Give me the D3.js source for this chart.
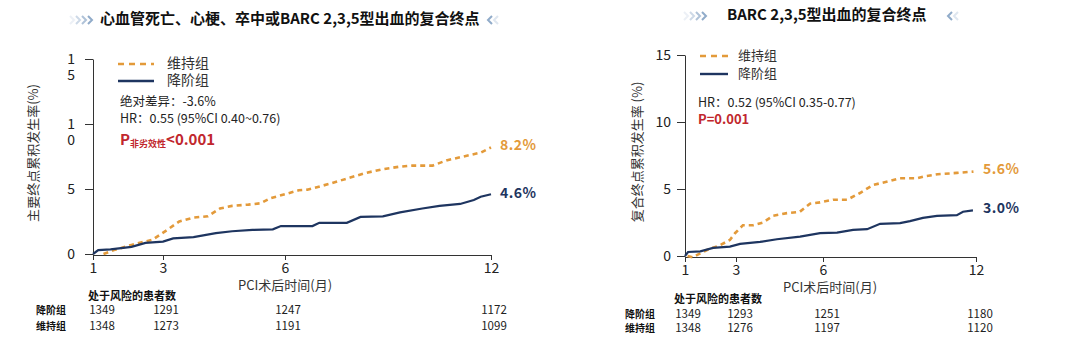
<!DOCTYPE html>
<html>
<head>
<meta charset="utf-8"/>
<title>KM curves</title>
<script src="https://d3js.org/d3.v7.min.js"></script>
<style>
  body { margin: 0; background: #fff; }
  text { font-family: "Noto Sans CJK SC", "Noto Sans", sans-serif; }
</style>
</head>
<body>
<svg width="1065" height="354"></svg>
<script>
// x ticks (months)
var months = [1, 3, 6, 12];
var yTicks = [0, 5, 10, 15];
var groups = ["维持组", "降阶组"];

// left: 心血管死亡、心梗、卒中或BARC 2,3,5型出血
var leftMaintain = [[1.3,0],[1.6,0.3],[2.1,0.7],[2.7,1.1],[3.1,1.85],[3.4,2.5],[3.75,2.8],[4.1,2.9],[4.4,3.5],[4.7,3.7],
  [5.1,3.8],[5.4,3.9],[5.65,4.3],[6,4.6],[6.4,4.9],[6.65,4.95],[7.3,5.4],[8.3,6.2],[8.8,6.5],[9.3,6.7],[9.7,6.8],
  [10.3,6.8],[10.7,7.2],[11.2,7.5],[11.7,7.8],[12,8.2]];
var leftDeesc = [[1,0],[1.15,0.3],[1.5,0.35],[2.1,0.55],[2.5,0.85],[3,0.95],[3.25,1.2],[3.75,1.3],[4.3,1.6],[4.7,1.75],
  [5.2,1.85],[5.7,1.9],[5.9,2.15],[6.8,2.15],[7.0,2.4],[7.8,2.4],[8.2,2.85],[8.85,2.9],[9.35,3.2],[10,3.5],
  [10.5,3.7],[11.1,3.85],[11.5,4.15],[11.7,4.4],[12,4.6]];
var leftRiskDeesc = [1349, 1291, 1247, 1172];
var leftRiskMaintain = [1348, 1273, 1191, 1099];

// right: BARC 2,3,5型出血
var rightMaintain = [[1.1,0],[1.3,-0.1],[1.5,0.1],[1.86,0.45],[2.37,0.8],[2.76,1.2],[2.96,1.7],[3.24,2.3],[3.6,2.3],
  [3.93,2.5],[4.28,3.0],[4.76,3.2],[5.2,3.3],[5.55,3.9],[5.9,4.0],[6.4,4.2],[6.95,4.2],[7.45,4.7],[7.96,5.3],
  [8.63,5.6],[9.0,5.8],[9.7,5.8],[10.0,5.95],[10.5,6.1],[11.25,6.2],[11.9,6.3]];
var rightDeesc = [[1,0],[1.12,0.3],[1.6,0.35],[2.1,0.6],[2.76,0.7],[3.14,0.9],[3.83,1.05],[4.41,1.25],[5.21,1.45],
  [5.9,1.7],[6.55,1.75],[7.18,1.95],[7.73,2.0],[8.24,2.4],[9.02,2.45],[9.41,2.6],[9.92,2.85],[10.47,3.0],
  [11.25,3.05],[11.49,3.3],[11.88,3.4]];
var rightRiskDeesc = [1349, 1293, 1251, 1180];
var rightRiskMaintain = [1348, 1276, 1197, 1120];

var ORANGE = "#e39a3a", NAVY = "#1e3560", RED = "#c1272d", INK = "#333";
var svg = d3.select("svg");
svg.append("rect").attr("width", 1065).attr("height", 354).attr("fill", "#fff");

function chevrons(x0, y0, n, dir, step) {
  for (var i = 0; i < n; i++) {
    var x = x0 + i * step;
    var op = dir > 0 ? 0.15 + 0.7 * i / (n - 1) : 0.85 - 0.6 * i / (n - 1);
    svg.append("path")
      .attr("d", dir > 0 ? "M" + x + "," + (y0 - 4) + "l4,4l-4,4" : "M" + (x + 4) + "," + (y0 - 4) + "l-4,4l4,4")
      .attr("fill", "none").attr("stroke", "#7d9cc0").attr("stroke-width", 2).attr("opacity", op);
  }
}

function panel(o) {
  var x = d3.scaleLinear().domain(months).range(o.xr);
  var y = d3.scaleLinear().domain([0, 15]).range([o.y0, o.y15]);
  var g = svg.append("g");

  // title
  svg.append("text").attr("x", o.titleX).attr("y", o.titleY).attr("font-size", 15).attr("font-weight", "bold")
    .attr("fill", "#111").attr("dominant-baseline", "middle").text(o.title);
  chevrons(o.chevL, o.titleY, 4, 1, 6);
  chevrons(o.chevR, o.titleY, 2, -1, 6);

  // axes
  var ya = g.append("g").attr("transform", "translate(" + o.xr[0] + ",0)")
    .call(d3.axisLeft(y).tickValues(yTicks).tickSize(8).tickPadding(o.pad).tickSizeOuter(0));
  var xa = g.append("g").attr("transform", "translate(0," + (o.y0 + 1) + ")")
    .call(d3.axisBottom(x).tickValues(months).tickSize(5).tickPadding(3).tickSizeOuter(0).tickFormat(d3.format("d")));
  [ya, xa].forEach(function(a) {
    a.select(".domain").attr("stroke", INK);
    a.selectAll(".tick line").attr("stroke", INK);
    a.selectAll("text").attr("font-size", 14).attr("fill", "#222")
      .attr("font-family", "'Noto Sans CJK SC', 'Noto Sans', sans-serif");
  });
  if (o.wrapTicks) {
    // the source wraps two-digit labels onto two lines
    ya.selectAll(".tick").each(function(d) {
      var s = String(d);
      if (s.length < 2) return;
      var t = d3.select(this);
      t.select("text").remove();
      t.append("text").attr("x", -o.pad - 8).attr("dy", "0.32em").attr("text-anchor", "end")
        .attr("font-size", 14).attr("fill", "#222").text(s[0]);
      t.append("text").attr("x", -o.pad - 8).attr("y", 16.5).attr("dy", "0.32em").attr("text-anchor", "end")
        .attr("font-size", 14).attr("fill", "#222").text(s[1]);
    });
  }

  g.append("text").attr("transform", "translate(" + o.ytX + "," + o.ytY + ") rotate(-90)")
    .attr("text-anchor", "middle").attr("font-size", 13).attr("fill", INK).text(o.yTitle);
  g.append("text").attr("x", x(6) + o.xlabDx).attr("y", o.y0 + 36).attr("text-anchor", "middle")
    .attr("font-size", 13).attr("fill", INK).text("PCI术后时间(月)");

  // curves
  var line = d3.line().x(function(d) { return x(d[0]); }).y(function(d) { return y(d[1]); });
  g.append("path").datum(o.maintain).attr("d", line).attr("fill", "none").attr("stroke", ORANGE)
    .attr("stroke-width", 2.6).attr("stroke-dasharray", "5,4");
  g.append("path").datum(o.deesc).attr("d", line).attr("fill", "none").attr("stroke", NAVY).attr("stroke-width", 2.2);

  // end labels
  var lm = o.maintain[o.maintain.length - 1], ld = o.deesc[o.deesc.length - 1];
  g.append("text").attr("x", x(12) + o.endDx).attr("y", y(lm[1]) + o.endDyM).attr("dominant-baseline", "middle")
    .attr("font-size", 14).attr("font-weight", "bold").attr("fill", ORANGE).attr("letter-spacing", 0.5).text(o.endM);
  g.append("text").attr("x", x(12) + o.endDx).attr("y", y(ld[1]) + o.endDyD).attr("dominant-baseline", "middle")
    .attr("font-size", 14).attr("font-weight", "bold").attr("fill", NAVY).attr("letter-spacing", 0.5).text(o.endD);

  // legend
  var lg = g.append("g").attr("transform", "translate(" + o.legX + "," + o.legY + ")");
  lg.append("line").attr("x1", 0).attr("x2", o.legW).attr("y1", 0).attr("y2", 0).attr("stroke", ORANGE)
    .attr("stroke-width", 2.6).attr("stroke-dasharray", "6,5");
  lg.append("line").attr("x1", 0).attr("x2", o.legW).attr("y1", o.legGap).attr("y2", o.legGap).attr("stroke", NAVY)
    .attr("stroke-width", 2.4);
  lg.selectAll("text.lg").data(groups).enter().append("text").attr("class", "lg")
    .attr("x", o.legTx).attr("y", function(d, i) { return i * o.legGap; }).attr("dominant-baseline", "middle")
    .attr("font-size", o.legFs).attr("fill", INK).text(function(d) { return d; });

  // stats
  var sy = o.statY;
  if (o.absDiff) {
    g.append("text").attr("x", o.statX).attr("y", sy).attr("dominant-baseline", "middle").attr("font-size", 12.5)
      .attr("fill", "#222").text(o.absDiff);
    sy += 17;
  }
  g.append("text").attr("x", o.statX).attr("y", sy).attr("dominant-baseline", "middle").attr("font-size", 12.5)
    .attr("fill", "#222").text(o.hr);
  var p = g.append("text").attr("x", o.statX).attr("y", sy + o.pGap).attr("dominant-baseline", "middle")
    .attr("font-weight", "bold").attr("fill", RED).attr("font-size", o.pFs);
  p.append("tspan").text("P");
  if (o.pSub) {
    p.append("tspan").attr("font-size", 9).attr("dy", 4).text(o.pSub);
    p.append("tspan").attr("dy", -4).text(o.pVal);
  } else {
    p.append("tspan").text(o.pVal);
  }

  // numbers at risk
  g.append("text").attr("x", o.riskHX).attr("y", o.riskY).attr("dominant-baseline", "middle").attr("font-size", 11)
    .attr("font-weight", "bold").attr("fill", "#111").text("处于风险的患者数");
  [["降阶组", o.riskD], ["维持组", o.riskM]].forEach(function(r, i) {
    var ry = o.riskY + o.rowGap0 + i * o.rowGap;
    g.append("text").attr("x", o.rowX).attr("y", ry).attr("dominant-baseline", "middle").attr("font-size", 10)
      .attr("font-weight", "bold").attr("fill", "#111").text(r[0]);
    g.selectAll(null).data(r[1]).enter().append("text")
      .attr("x", function(d, k) { return x(months[k]) + (k === 0 ? o.firstDx : o.riskDx); })
      .attr("y", ry).attr("dominant-baseline", "middle").attr("text-anchor", "middle")
      .attr("font-size", 11.5).attr("fill", "#222").text(function(d) { return d; });
  });
}

panel({
  title: "心血管死亡、心梗、卒中或BARC 2,3,5型出血的复合终点", titleX: 100, titleY: 20, chevL: 70, chevR: 488,
  xr: [93, 163, 285, 491], y0: 254, y15: 59, pad: 10, wrapTicks: true,
  yTitle: "主要终点累积发生率(%)", ytX: 38, ytY: 153, xlabDx: 0,
  maintain: leftMaintain, deesc: leftDeesc, endM: "8.2%", endD: "4.6%", endDx: 9, endDyM: -1, endDyD: 0,
  legX: 118, legY: 64, legW: 36, legGap: 17, legTx: 49, legFs: 14,
  statX: 120, statY: 103, absDiff: "绝对差异：-3.6%", hr: "HR：0.55 (95%CI 0.40~0.76)", pGap: 21, pFs: 15,
  pSub: "非劣效性", pVal: "<0.001",
  riskHX: 88, riskY: 297, rowX: 36, riskD: leftRiskDeesc, riskM: leftRiskMaintain, firstDx: 9, riskDx: 3,
  rowGap0: 14, rowGap: 16
});

panel({
  title: "BARC 2,3,5型出血的复合终点", titleX: 727, titleY: 16, chevL: 684, chevR: 948,
  xr: [685, 736, 823, 976], y0: 256, y15: 55, pad: 6, wrapTicks: false,
  yTitle: "复合终点累积发生率 (%)", ytX: 642, ytY: 152, xlabDx: 7,
  maintain: rightMaintain, deesc: rightDeesc, endM: "5.6%", endD: "3.0%", endDx: 7, endDyM: -1, endDyD: -1,
  legX: 700, legY: 56, legW: 28, legGap: 18, legTx: 38, legFs: 13,
  statX: 698, statY: 104, absDiff: null, hr: "HR：0.52 (95%CI 0.35-0.77)", pGap: 16, pFs: 13,
  pSub: null, pVal: "=0.001",
  riskHX: 674, riskY: 300, rowX: 625, riskD: rightRiskDeesc, riskM: rightRiskMaintain, firstDx: 3, riskDx: 4,
  rowGap0: 15, rowGap: 14
});
</script>
</body>
</html>
